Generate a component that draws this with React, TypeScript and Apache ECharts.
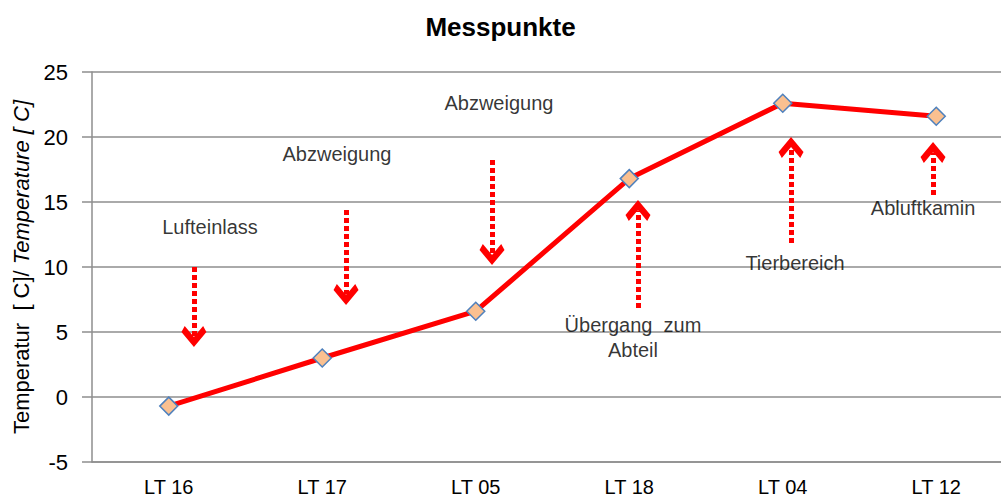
import React, { useEffect, useRef } from "react";
import * as echarts from "echarts";

const categories = ["LT 16", "LT 17", "LT 05", "LT 18", "LT 04", "LT 12"];
const temperatures = [-0.7, 3.0, 6.6, 16.8, 22.6, 21.6];
const yTicks = { min: -5, max: 25, interval: 5 };

// annotation texts: [x position (category index units), y value, text]
const noteTexts: [number, number, string][] = [
  [0.269, 13.08, "Lufteinlass"],
  [1.096, 18.69, "Abzweigung"],
  [2.151, 22.62, "Abzweigung"],
  [3.024, 4.58, "Übergang  zum\nAbteil"],
  [4.08, 10.31, "Tierbereich"],
  [4.914, 14.54, "Abluftkamin"],
];

// arrows: [x, y start, y of arrow head centre]
const arrows: [number, number, number][] = [
  [0.164, 10.0, 4.65],
  [1.155, 14.38, 7.88],
  [2.106, 18.23, 10.96],
  [3.057, 6.85, 14.35],
  [4.054, 11.85, 19.19],
  [4.979, 15.54, 18.81],
];

const FONT = "'Liberation Sans', Arial, sans-serif";
const chevron = "path://M12.5,0 L25,15 L21.7,21 L12.5,10 L3.3,21 L0,15 Z";

export default function App() {
  const ref = useRef<HTMLDivElement>(null);
  useEffect(() => {
    if (!ref.current) return;
    const chart = echarts.init(ref.current, undefined, { renderer: "svg" });
    chart.setOption({
      animation: false,
      backgroundColor: "#ffffff",
      title: {
        text: "Messpunkte",
        left: "center",
        top: 9,
        textStyle: { fontFamily: FONT, fontSize: 26, fontWeight: "bold", color: "#000" },
      },
      grid: { left: 92, right: -12, top: 72, bottom: 35, containLabel: false, outerBoundsMode: "none" },
      xAxis: [
        {
          type: "category",
          data: categories,
          boundaryGap: true,
          axisLine: { show: true, onZero: false, lineStyle: { color: "#8e8e8e", width: 1.5 } },
          axisTick: { show: false },
          axisLabel: { color: "#000", fontFamily: FONT, fontSize: 20, margin: 15 },
        },
        { type: "value", min: -0.5, max: 5.5, show: false },
      ],
      yAxis: {
        type: "value",
        min: yTicks.min,
        max: yTicks.max,
        interval: yTicks.interval,
        name: "{a|Temperatur  [ C]/ }{b|Temperature [ C]}",
        nameLocation: "middle",
        nameGap: 59,
        nameRotate: 90,
        nameTextStyle: {
          fontFamily: FONT,
          fontSize: 22,
          color: "#000",
          rich: {
            a: { fontFamily: FONT, fontSize: 22, color: "#000" },
            b: { fontFamily: FONT, fontSize: 22, color: "#000", fontStyle: "italic" },
          },
        },
        axisLine: { show: true, onZero: false, lineStyle: { color: "#8e8e8e", width: 1.5 } },
        axisTick: { show: true, inside: false, length: 10, lineStyle: { color: "#8e8e8e", width: 1.5 } },
        axisLabel: { color: "#000", fontFamily: FONT, fontSize: 22, margin: 24 },
        splitLine: { show: true, lineStyle: { color: "#8e8e8e", width: 1.5 } },
      },
      series: [
        {
          type: "line",
          data: temperatures,
          xAxisIndex: 0,
          symbol: "diamond",
          symbolSize: 18,
          lineStyle: { color: "#ff0000", width: 5 },
          itemStyle: { color: "#fac090", borderColor: "#4f81bd", borderWidth: 1.5 },
          z: 3,
        },
        {
          type: "scatter",
          xAxisIndex: 1,
          data: noteTexts.map((t) => ({ value: [t[0], t[1]], name: t[2] })),
          symbolSize: 1,
          itemStyle: { color: "rgba(0,0,0,0)" },
          label: {
            show: true,
            position: "inside",
            formatter: (p: any) => p.name,
            color: "#000",
            fontFamily: FONT,
            fontSize: 20,
            lineHeight: 25,
            align: "center",
            verticalAlign: "middle",
          },
          silent: true,
          z: 4,
          markLine: {
            silent: true,
            symbol: ["none", "none"],
            label: { show: false },
            lineStyle: { color: "#ff0000", width: 5, type: [5, 3] },
            data: arrows.map((a) => [
              { coord: [a[0], a[1]] },
              { coord: [a[0], a[2]] },
            ]),
          },
          markPoint: {
            silent: true,
            symbol: chevron,
            symbolSize: [25, 21],
            symbolKeepAspect: false,
            label: { show: false },
            itemStyle: { color: "#ff0000" },
            data: arrows.map((a) => ({
              coord: [a[0], a[2]],
              symbolRotate: a[2] > a[1] ? 0 : 180,
            })),
          },
        },
      ],
    });
    return () => chart.dispose();
  }, []);
  return <div ref={ref} style={{ width: 1001, height: 497, position: "absolute", left: 0, top: 0 }} />;
}
